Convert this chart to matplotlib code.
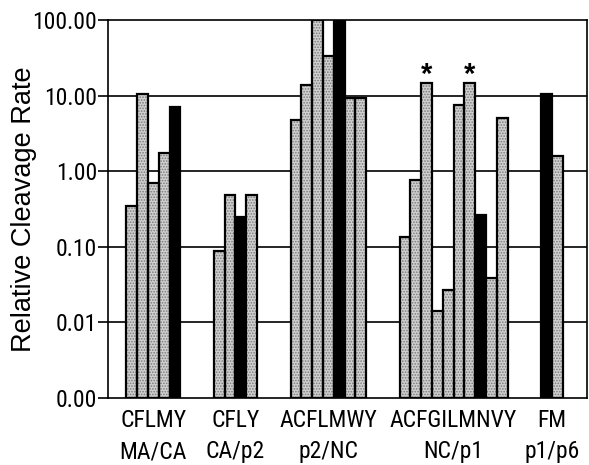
import matplotlib
matplotlib.use("Agg")
import matplotlib.pyplot as plt
from matplotlib import font_manager
from matplotlib.font_manager import FontProperties
import numpy as np

# ---- data ----
group_residues = ["CFLMY", "CFLY", "ACFLMWY", "ACFGILMNVY", "FM"]
group_sites = ["MA/CA", "CA/p2", "p2/NC", "NC/p1", "p1/p6"]
g1_values = [0.35, 10.5, 0.69, 1.73, 7.1]
g2_values = [0.086, 0.49, 0.245, 0.48]
g3_values = [4.8, 14.0, 100.0, 33.0, 100.0, 9.4, 9.4]
g4_values = [0.132, 0.76, 14.5, 0.0132, 0.026, 7.5, 14.5, 0.26, 0.038, 5.0]
g5_values = [10.5, 1.58]
g1_black = [False, False, False, False, True]
g2_black = [False, False, True, False]
g3_black = [False, False, False, False, True, False, False]
g4_black = [False, False, False, False, False, False, False, True, False, False]
g5_black = [True, False]
g4_starred = [False, False, True, False, False, False, True, False, False, False]
ytick_values = [0.001, 0.01, 0.1, 1, 10, 100]
ytick_labels = ["0.00", "0.01", "0.10", "1.00", "10.00", "100.00"]

groups_vals = [g1_values, g2_values, g3_values, g4_values, g5_values]
groups_black = [g1_black, g2_black, g3_black, g4_black, g5_black]
groups_star = [[False]*5, [False]*4, [False]*7, g4_starred, [False]*2]


def find_condensed():
    prefs = ["Liberation Sans Narrow", "Roboto Condensed", "Noto Sans Condensed",
             "Open Sans Condensed", "DejaVu Sans Condensed"]
    fl = font_manager.fontManager.ttflist
    def is_plain(f):
        w = f.weight if isinstance(f.weight, int) else {"normal": 400, "regular": 400}.get(str(f.weight), 400)
        return f.style == "normal" and 350 <= w <= 450
    for p in prefs:
        for f in fl:
            if f.name == p and is_plain(f):
                return f.fname
    for f in fl:
        st = f.stretch
        cond = (isinstance(st, str) and "condensed" in st) or (isinstance(st, int) and st < 500)
        if (cond or "Narrow" in f.name or "Condensed" in f.name) and is_plain(f) \
                and "Mono" not in f.name and "Serif" not in f.name:
            return f.fname
    return None


cfname = find_condensed()
def cond_font(size, weight="normal"):
    if cfname:
        return FontProperties(fname=cfname, size=size)
    return FontProperties(family="Liberation Sans", size=size * 0.8, weight=weight)

plt.rcParams['font.family'] = ["Liberation Sans", "DejaVu Sans"]
plt.rcParams['hatch.linewidth'] = 0.8

fig = plt.figure(figsize=(5.89, 4.65), dpi=100)
ax = fig.add_axes([108/589, 1-398/465, 479/589, 378/465])

start = 1.7
gap = 3.1
centers = []
for vals, blacks, stars in zip(groups_vals, groups_black, groups_star):
    x = start + np.arange(len(vals)) + 0.5
    for xi, v, b in zip(x, vals, blacks):
        if b:
            ax.bar(xi, v, width=1.0, bottom=0.001, color="black",
                   edgecolor="black", linewidth=1.6, zorder=3)
        else:
            ax.bar(xi, v, width=1.0, bottom=0.001, color="#d0d0d0",
                   edgecolor="#7a7a7a", hatch="......", linewidth=0, zorder=3)
            ax.bar(xi, v, width=1.0, bottom=0.001, fill=False,
                   edgecolor="black", linewidth=1.6, zorder=3.5)
    for xi, v, s in zip(x, vals, stars):
        if s:
            ax.text(xi, v, "*", ha="center", va="baseline", fontsize=21,
                    fontweight="bold", zorder=4)
    centers.append(start + len(vals) / 2)
    start += len(vals) + gap

ax.set_yscale("log")
ax.set_ylim(0.001, 100)
ax.set_xlim(0, 479/10.8)
ax.yaxis.set_major_locator(matplotlib.ticker.FixedLocator(ytick_values))
ax.yaxis.set_minor_locator(matplotlib.ticker.NullLocator())
ax.set_yticklabels(ytick_labels)
for lab in ax.get_yticklabels():
    lab.set_fontproperties(cond_font(17))
ax.tick_params(axis="y", direction="out", length=7, width=1.2, pad=1)
ax.set_xticks([])
for yv in ytick_values[1:-1]:
    ax.axhline(yv, color="black", linewidth=1.2, zorder=1)
for sp in ax.spines.values():
    sp.set_linewidth(1.2)

ax.set_ylabel("Relative Cleavage Rate", fontsize=19.5)
ax.yaxis.set_label_coords(-(108 - 37) / 479, 0.5)

for c, r, s in zip(centers, group_residues, group_sites):
    ax.text(c, -29/378, r, transform=ax.get_xaxis_transform(), ha="center",
            va="baseline", fontproperties=cond_font(17))
    ax.text(c, -60/378, s, transform=ax.get_xaxis_transform(), ha="center",
            va="baseline", fontproperties=cond_font(17))

fig.savefig("out.png", dpi=100)
